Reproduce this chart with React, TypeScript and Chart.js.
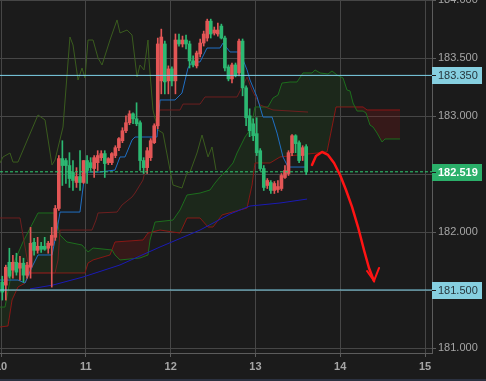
import { useEffect, useRef } from 'react';
import { Chart, registerables } from 'chart.js';

Chart.register(...registerables);

// ---- axis ranges ----
const xMin = 9.988;
const xMax = 15.082;
const yMin = 180.957;
const yMax = 184;

// ---- candles (hourly) ----
const firstCandle = 10.015;
const candleStep = 1 / 24;
const opens = [181.568,181.542,181.739,181.671,181.739,181.688,181.731,181.628,181.696,181.911,181.842,181.877,181.877,181.860,181.885,181.954,182.203,182.633,182.616,182.573,182.513,182.427,182.478,182.427,182.616,182.598,182.547,182.598,182.641,182.676,182.598,182.598,182.659,182.727,182.787,182.873,182.942,183.019,182.976,182.942,182.616,182.555,182.641,182.770,182.916,183.303,183.621,183.303,183.406,183.303,183.655,183.621,183.655,183.621,183.475,183.432,183.535,183.629,183.672,183.818,183.715,183.707,183.775,183.672,183.423,183.320,183.440,183.372,183.646,183.243,183.002,182.933,182.848,182.701,182.547,182.401,182.427,182.358,182.366,182.375,182.470,182.504,182.684,182.830,182.770,182.659,182.736];
const highs = [181.619,181.714,181.860,181.800,181.817,181.791,181.774,181.739,182.040,181.946,181.954,181.911,181.954,181.920,182.040,182.229,182.659,182.787,182.633,182.684,182.616,182.555,182.701,182.616,182.659,182.641,182.659,182.701,182.701,182.701,182.641,182.684,182.744,182.813,182.899,183.002,183.045,183.028,183.114,182.959,182.641,182.727,182.805,182.933,183.672,183.749,183.646,183.432,183.423,183.707,183.707,183.689,183.698,183.646,183.518,183.560,183.664,183.732,183.835,183.835,183.767,183.801,183.792,183.689,183.440,183.457,183.457,183.664,183.664,183.260,183.062,182.976,182.985,182.719,182.573,182.461,182.444,182.435,182.444,182.504,182.573,182.701,182.839,182.839,182.787,182.744,182.753];
const lows = [181.413,181.413,181.602,181.602,181.628,181.585,181.568,181.602,181.602,181.800,181.817,181.825,181.842,181.817,181.525,181.928,182.186,182.401,182.418,182.384,182.358,182.384,182.358,182.418,182.418,182.530,182.470,182.530,182.616,182.470,182.581,182.581,182.641,182.701,182.770,182.856,182.925,182.933,182.916,182.530,182.504,182.504,182.616,182.762,182.890,183.191,183.191,183.191,183.260,183.191,183.603,183.595,183.578,183.414,183.423,183.414,183.509,183.603,183.646,183.672,183.698,183.689,183.664,183.389,183.303,183.286,183.337,183.346,183.174,182.916,182.822,182.787,182.659,182.530,182.358,182.375,182.332,182.332,182.341,182.358,182.461,182.487,182.659,182.684,182.598,182.616,182.495];
const closes = [181.482,181.696,181.619,181.739,181.654,181.731,181.628,181.714,181.903,181.842,181.877,181.851,181.851,181.903,181.971,182.203,182.633,182.573,182.573,182.461,182.444,182.478,182.427,182.616,182.530,182.555,182.641,182.659,182.676,182.590,182.633,182.676,182.727,182.805,182.873,182.942,183.019,182.976,182.933,182.616,182.555,182.701,182.787,182.916,183.621,183.681,183.294,183.406,183.303,183.655,183.621,183.655,183.621,183.475,183.440,183.543,183.629,183.707,183.818,183.707,183.741,183.741,183.672,183.414,183.320,183.440,183.346,183.646,183.243,182.985,182.873,182.830,182.684,182.547,182.384,182.444,182.358,182.418,182.392,182.487,182.530,182.684,182.830,182.762,182.616,182.727,182.519];

// ---- Ichimoku lines ----
const tenkanX = [9.988,10.200,10.283,10.365,10.436,10.601,10.660,10.696,10.931,10.990,11.167,11.344,11.403,11.462,11.545,11.580,11.839,11.875,12.052,12.134,12.205,12.252,12.347,12.429,12.582,12.618,12.700,12.818,12.901,12.936,13.019,13.089,13.196,13.255,13.325,13.384,13.608];
const tenkanY = [181.586,181.586,181.560,181.698,181.802,181.802,182.017,182.172,182.172,182.517,182.517,182.534,182.647,182.647,182.793,182.819,182.819,183.138,183.138,183.198,183.414,183.466,183.466,183.586,183.586,183.629,183.552,183.552,183.397,183.310,183.164,182.991,182.991,182.853,182.647,182.560,182.560];

const kijunX = [9.988,10.224,10.306,10.342,10.637,10.672,10.696,11.073,11.120,11.144,11.368,11.427,11.545,11.580,11.674,11.757,11.851,11.875,12.111,12.146,12.347,12.405,12.783,12.842,12.901,12.960,13.054,13.207,13.620];
const kijunY = [182.121,182.121,181.776,181.647,181.647,181.759,182.017,182.017,182.103,182.164,182.172,182.233,182.302,182.336,182.448,182.707,183.026,183.052,183.052,183.103,183.103,183.164,183.164,183.250,183.336,183.224,183.095,183.052,183.034];

const senkouAX = [9.988,10.047,10.141,10.259,10.436,10.637,10.696,10.778,10.955,11.026,11.085,11.309,11.344,11.403,11.639,11.733,11.757,11.816,12.028,12.111,12.193,12.347,12.464,12.523,12.582,12.665,12.736,12.783,12.842,12.877,12.936,12.972,12.995,13.148,13.207,13.266,13.313,13.408,13.490,13.561,13.667,13.703,13.762,13.856,13.903,13.962,14.033,14.080,14.115,14.151,14.198,14.269,14.304,14.351,14.387,14.434,14.493,14.528,14.705];
const senkouAY = [181.353,181.353,181.716,181.914,182.164,182.164,181.974,181.914,181.888,181.828,181.862,181.845,181.802,181.759,181.776,181.802,181.931,182.086,182.103,182.190,182.319,182.336,182.362,182.422,182.474,182.534,182.595,182.681,182.767,182.819,182.879,182.991,183.078,183.078,183.155,183.181,183.284,183.293,183.293,183.371,183.371,183.397,183.371,183.362,183.388,183.353,183.328,183.224,183.216,183.112,183.043,183.043,183.026,182.922,182.905,182.853,182.776,182.802,182.802];

const senkouBX = [9.988,10.082,10.130,10.200,10.283,10.342,10.990,11.026,11.085,11.285,11.344,11.674,11.733,11.875,12.111,12.193,12.347,12.441,12.500,12.606,12.901,12.960,12.995,13.172,13.290,13.844,13.950,14.269,14.316,14.705];
const senkouBY = [181.181,181.190,181.414,181.526,181.560,181.647,181.647,181.733,181.759,181.802,181.914,181.931,181.991,182.017,181.991,182.121,182.121,182.043,182.043,182.147,182.207,182.405,182.595,182.595,182.647,182.690,183.078,183.078,183.052,183.052];

const chikouX = [9.988,10.023,10.106,10.141,10.200,10.436,10.519,10.601,10.637,10.731,10.813,10.849,10.908,10.955,10.990,11.026,11.085,11.144,11.191,11.285,11.368,11.403,11.486,11.545,11.604,11.639,11.686,11.733,11.745,11.792,11.851,11.910,11.993,12.028,12.134,12.193,12.229,12.311,12.370,12.441,12.488,12.535];
const chikouY = [182.595,182.647,182.681,182.603,182.603,183.009,182.966,182.578,182.621,182.905,183.681,183.612,183.310,183.414,183.328,183.655,183.655,183.500,183.440,183.655,183.828,183.716,183.741,183.698,183.336,183.440,183.397,183.655,183.483,183.052,182.879,182.853,182.534,182.405,182.379,182.509,182.517,182.681,182.836,182.647,182.733,182.534];

// ---- drawn objects ----
const trendX = [10.342,10.613,10.967,11.403,11.875,12.347,12.700,12.936,13.290,13.608];
const trendY = [181.509,181.543,181.612,181.716,181.871,182.017,182.155,182.224,182.250,182.284];

const arrowX = [13.667,13.714,13.785,13.856,13.927,13.998,14.068,14.139,14.210,14.280,14.339,14.398];
const arrowY = [182.578,182.655,182.690,182.664,182.595,182.491,182.362,182.216,182.043,181.845,181.690,181.578];
const arrowHeadX = [14.316,14.398,14.458];
const arrowHeadY = [181.664,181.578,181.690];

const levelUpper = 183.35;
const levelLower = 181.5;
const lastPrice = 182.519;

const UP = '#e35656';
const DOWN = '#2cb872';
const LEVEL = '#7fd3ea';
const FONT = "'Liberation Sans', Arial, sans-serif";

const pts = (xs: number[], ys: number[]) => xs.map((x, i) => ({ x, y: ys[i] }));

const lineDs = (label: string, data: any[], color: string, width = 1, extra: any = {}) => ({
  type: 'line',
  label,
  data,
  borderColor: color,
  borderWidth: width,
  pointRadius: 0,
  pointHoverRadius: 0,
  pointHitRadius: 0,
  tension: 0,
  fill: false,
  ...extra,
});

const bgPlugin = {
  id: 'bg',
  beforeDraw(chart: any) {
    const c = chart.ctx;
    c.save();
    c.fillStyle = '#1b1b1b';
    c.fillRect(0, 0, chart.width, chart.height);
    c.restore();
  },
};

const boxPlugin = {
  id: 'levelBoxes',
  afterDraw(chart: any) {
    const c = chart.ctx;
    const ys = chart.scales.y;
    const left = chart.chartArea.right;
    const boxes = [
      { v: levelUpper, bg: '#86cfe0', fg: '#26363c', bold: false },
      { v: lastPrice, bg: '#2bb06a', fg: '#ffffff', bold: true },
      { v: levelLower, bg: '#86cfe0', fg: '#26363c', bold: false },
    ];
    c.save();
    for (const b of boxes) {
      const py = Math.round(ys.getPixelForValue(b.v));
      c.fillStyle = b.bg;
      c.fillRect(left, py - 8, 50, 17);
      c.fillStyle = '#1b1b1b';
      c.fillRect(left, py, 4, 1);
      c.fillStyle = b.fg;
      c.font = (b.bold ? 'bold ' : '') + '11px ' + FONT;
      c.textBaseline = 'middle';
      c.textAlign = 'left';
      c.fillText(b.v.toFixed(3), left + 6, py + 1);
    }
    c.fillStyle = '#2b3140';
    c.fillRect(0, chart.height - 2, chart.width, 2);
    c.restore();
  },
};

export default function App() {
  const ref = useRef<HTMLCanvasElement | null>(null);

  useEffect(() => {
    if (!ref.current) return;
    const candleX = opens.map((_, i) => firstCandle + i * candleStep);
    const colors = opens.map((o, i) => (closes[i] >= o ? UP : DOWN));

    const chart = new Chart(ref.current, {
      type: 'bar',
      data: {
        datasets: [
          lineDs('arrow', pts(arrowX, arrowY), '#ff1414', 2.5, { borderCapStyle: 'round', borderJoinStyle: 'round' }),
          lineDs('arrowHead', pts(arrowHeadX, arrowHeadY), '#ff1414', 2, { borderCapStyle: 'round' }),
          lineDs('upper', [{ x: xMin, y: levelUpper }, { x: xMax, y: levelUpper }], LEVEL, 1),
          lineDs('lower', [{ x: xMin, y: levelLower }, { x: xMax, y: levelLower }], LEVEL, 1),
          lineDs('last', [{ x: xMin, y: lastPrice }, { x: xMax, y: lastPrice }], '#2ecc71', 1, { borderDash: [3, 2] }),
          {
            type: 'bar',
            label: 'body',
            data: candleX.map((x, i) => ({ x, y: [opens[i], closes[i]] })),
            backgroundColor: colors,
            borderWidth: 0,
            barThickness: 3,
            minBarLength: 1,
            grouped: false,
          },
          {
            type: 'bar',
            label: 'wick',
            data: candleX.map((x, i) => ({ x, y: [lows[i], highs[i]] })),
            backgroundColor: colors,
            borderWidth: 0,
            barThickness: 1,
            grouped: false,
          },
          lineDs('tenkan', pts(tenkanX, tenkanY), '#1f6fc4', 1),
          lineDs('kijun', pts(kijunX, kijunY), '#6e1f1f', 1),
          lineDs('chikou', pts(chikouX, chikouY), '#3a5c1e', 1),
          lineDs('trend', pts(trendX, trendY), '#1a1ab4', 1),
          lineDs('senkouA', pts(senkouAX, senkouAY), '#1d6e1d', 1, {
            fill: { target: '+1', above: 'rgba(40,110,30,0.16)', below: 'rgba(150,20,20,0.22)' },
          }),
          lineDs('senkouB', pts(senkouBX, senkouBY), '#8e1616', 1),
        ] as any,
      },
      options: {
        animation: false,
        responsive: false,
        devicePixelRatio: 1,
        events: [],
        layout: { padding: 0 },
        plugins: { legend: { display: false }, tooltip: { enabled: false } },
        scales: {
          x: {
            type: 'linear',
            min: xMin,
            max: xMax,
            offset: false,
            grid: { color: '#464646', tickLength: 4, offset: false, tickColor: '#5c5c5c' },
            border: { color: '#5c5c5c' },
            ticks: {
              stepSize: 1,
              includeBounds: false,
              autoSkip: false,
              maxRotation: 0,
              padding: 3,
              color: '#a6a6a6',
              font: { family: FONT, size: 11, weight: 'bold' },
              callback: (v: any) => String(Math.round(Number(v))),
            },
            afterFit: (s: any) => {
              s.height = 28;
              s.paddingLeft = 0;
              s.paddingRight = 0;
            },
          },
          y: {
            type: 'linear',
            position: 'right',
            min: yMin,
            max: yMax,
            grid: { color: '#464646', tickLength: 4, tickColor: '#5c5c5c' },
            border: { color: '#5c5c5c' },
            ticks: {
              stepSize: 0.5,
              includeBounds: false,
              autoSkip: false,
              padding: 2,
              color: '#a6a6a6',
              font: { family: FONT, size: 11 },
              callback: (v: any) => Number(v).toFixed(3),
            },
            afterFit: (s: any) => {
              s.width = 54;
              s.paddingTop = 0;
              s.paddingBottom = 0;
            },
          },
        },
      } as any,
      plugins: [bgPlugin, boxPlugin],
    });
    return () => chart.destroy();
  }, []);

  return (
    <div style={{ position: 'absolute', left: 0, top: 0, width: 486, height: 381 }}>
      <canvas ref={ref} width={486} height={381} style={{ display: 'block' }} />
    </div>
  );
}
